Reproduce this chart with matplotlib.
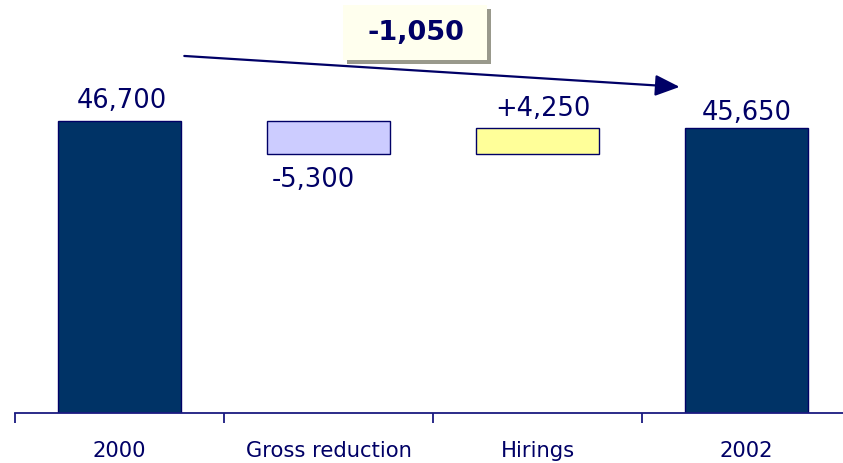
import matplotlib.pyplot as plt
from matplotlib.patches import Rectangle
import numpy as np

# Headcount bridge 2000 -> 2002
categories = ['2000', 'Gross reduction', 'Hirings', '2002']
start_value = 46700
changes = [-5300, 4250]
end_value = 45650
net_change = end_value - start_value

navy = '#000066'
bar_dark = '#003366'
colors = [bar_dark, '#CCCCFF', '#FFFF99', bar_dark]

# floating bars: bottom and height for each step
bottoms = [0]
heights = [start_value]
level = start_value
for c in changes:
    bottoms.append(min(level, level + c))
    heights.append(abs(c))
    level += c
bottoms.append(0)
heights.append(end_value)

W, H = 843, 463
left = 15
fig = plt.figure(figsize=(W / 100, H / 100), dpi=100)
ax = fig.add_axes([left / W, 50 / H, (W - left) / W, 413 / H])

x = np.arange(len(categories))
ax.bar(x, heights, bottom=bottoms, width=0.59, color=colors,
       edgecolor=navy, linewidth=1.0, zorder=2)

for s in ['top', 'right', 'left']:
    ax.spines[s].set_visible(False)
ax.spines['bottom'].set_color('#1a1a80')
ax.spines['bottom'].set_linewidth(1.3)
ax.set_yticks([])
ax.set_xticks(x)
ax.set_xticklabels(categories, fontsize=15.2, color=navy)
ax.tick_params(axis='x', which='major', length=0, pad=20)
ax.set_xticks(np.arange(-0.5, len(categories), 1.0), minor=True)
ax.tick_params(axis='x', which='minor', length=7.5, width=1.3,
               color='#1a1a80', direction='out')

# limits last, set_xticks widens the view otherwise
ax.set_xlim(-0.5, -0.5 + (W - left) / 209)
ax.set_ylim(0, 66050)

# value labels
lab_kw = dict(fontsize=18.5, color=navy, textcoords='offset points')
ax.annotate(f'{start_value:,}', (x[0], start_value), xytext=(2, 5),
            ha='center', va='bottom', **lab_kw)
ax.annotate(f'{changes[0]:+,}'.replace('+', ''), (x[1], bottoms[1]),
            xytext=(-11, -9), ha='center', va='top', **lab_kw)
ax.annotate(f'{changes[1]:+,}', (x[2], bottoms[2] + heights[2]),
            xytext=(4, 4), ha='center', va='bottom', **lab_kw)
ax.annotate(f'{end_value:,}', (x[3], end_value), xytext=(0, 1),
            ha='center', va='bottom', **lab_kw)

# trend arrow over the bridge
ax.annotate('', xy=(2.68, 52150), xytext=(0.31, 57100),
            arrowprops=dict(arrowstyle='-|>,head_length=1.5,head_width=0.65',
                            color=navy, lw=1.6, shrinkA=0, shrinkB=0))

# net change call-out box with drop shadow
bx0, by0, bw, bh = 343, 5, 144, 55
fig.patches.append(Rectangle(((bx0 + 4) / W, 1 - (by0 + bh + 4) / H), bw / W, bh / H,
                             transform=fig.transFigure, facecolor='#99998C',
                             edgecolor='none', zorder=3))
fig.patches.append(Rectangle((bx0 / W, 1 - (by0 + bh) / H), bw / W, bh / H,
                             transform=fig.transFigure, facecolor='#FFFFEE',
                             edgecolor='none', zorder=4))
fig.text((bx0 + bw / 2 + 1) / W, 1 - (by0 + bh / 2) / H, f'{net_change:,}',
         ha='center', va='center', fontsize=19.5, fontweight='bold',
         color=navy, zorder=5)

fig.savefig('out.png', dpi=100)
